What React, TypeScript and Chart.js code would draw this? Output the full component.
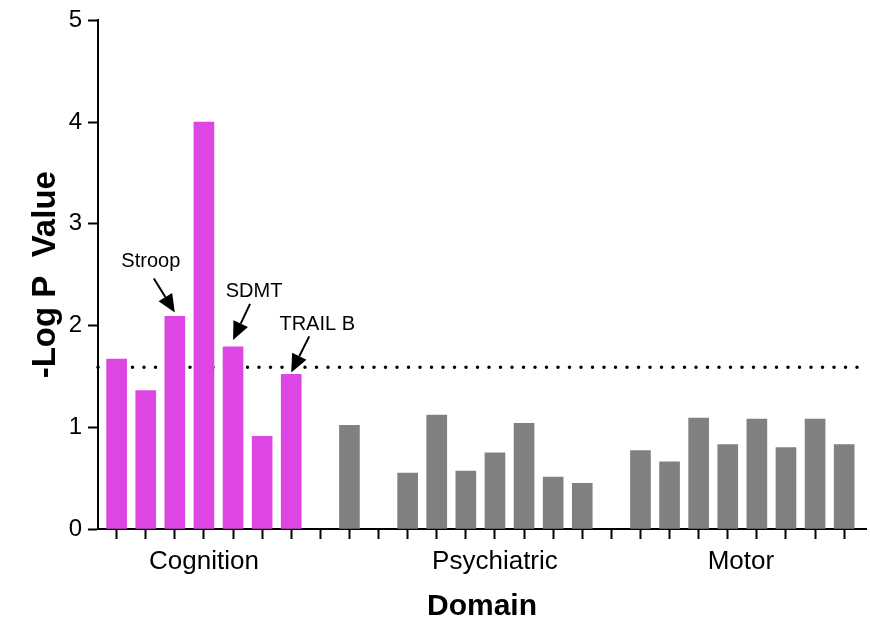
import React, { useEffect, useRef } from "react";
import { Chart, registerables } from "chart.js";

Chart.register(...registerables);

// ---- data ----
const cognitionValues: number[] = [1.67, 1.36, 2.09, 4.0, 1.79, 0.91, 1.52];
const psychiatricValues: (number | null)[] = [1.02, null, 0.55, 1.12, 0.57, 0.75, 1.04, 0.51, 0.45];
const motorValues: number[] = [0.77, 0.66, 1.09, 0.83, 1.08, 0.8, 1.08, 0.83];
const cognitionStartSlot = 0;
const psychiatricStartSlot = 8;
const motorStartSlot = 18;
const slotCount = 26;
const domainLabels = ["Cognition", "Psychiatric", "Motor"];
const domainLabelSlots = [3, 13, 21.45];
const yTickValues = [0, 1, 2, 3, 4, 5];
const thresholdValue = 1.59;
const annotationLabels = ["Stroop", "SDMT", "TRAIL B"];
const annotationSlots = [2, 4, 6];
const yAxisTitle = "-Log P  Value";
const xAxisTitle = "Domain";

const FONT = '"Liberation Sans", Arial, Helvetica, sans-serif';
const MAGENTA = "#DD46E2";
const GRAY = "#808080";

const toPoints = (values: (number | null)[], start: number) =>
  values
    .map((v, i) => (v == null ? null : { x: start + i, y: v }))
    .filter((p) => p !== null) as { x: number; y: number }[];

// styling for annotations
const annotationStyles = [
  { gap: 4, sx: -21, sy: -34, tx: -24, ty: -51 },
  { gap: 7, sx: 17, sy: -36, tx: 21, ty: -48 },
  { gap: 2, sx: 18, sy: -36, tx: 26, ty: -48 },
];

const thresholdPlugin = {
  id: "threshold",
  beforeDatasetsDraw(chart: any) {
    const { ctx, chartArea, scales } = chart;
    const y = scales.y.getPixelForValue(thresholdValue);
    ctx.save();
    ctx.strokeStyle = "#000";
    ctx.lineWidth = 3.5;
    ctx.lineCap = "round";
    ctx.setLineDash([0, 11.5]);
    ctx.beginPath();
    ctx.moveTo(chartArea.left, y);
    ctx.lineTo(chartArea.right - 7, y);
    ctx.stroke();
    ctx.restore();
  },
};

const labelsPlugin = {
  id: "labels",
  afterDraw(chart: any) {
    const { ctx, chartArea, scales } = chart;
    ctx.save();
    ctx.fillStyle = "#000";
    ctx.font = `26px ${FONT}`;
    ctx.textAlign = "center";
    ctx.textBaseline = "alphabetic";
    domainLabels.forEach((lab, i) => {
      const x = scales.x.getPixelForValue(domainLabelSlots[i]);
      ctx.fillText(lab, x, chartArea.bottom + 40);
    });
    ctx.font = `20px ${FONT}`;
    ctx.textBaseline = "middle";
    annotationLabels.forEach((lab, i) => {
      const slot = annotationSlots[i];
      const val = cognitionValues[slot - cognitionStartSlot];
      const st = annotationStyles[i];
      const bx = scales.x.getPixelForValue(slot);
      const by = scales.y.getPixelForValue(val);
      const tipX = bx;
      const tipY = by - st.gap;
      const sx = tipX + st.sx;
      const sy = tipY + st.sy;
      const ang = Math.atan2(tipY - sy, tipX - sx);
      const headLen = 18;
      const headHalf = 8;
      const baseX = tipX - headLen * Math.cos(ang);
      const baseY = tipY - headLen * Math.sin(ang);
      ctx.strokeStyle = "#000";
      ctx.lineWidth = 2;
      ctx.beginPath();
      ctx.moveTo(sx, sy);
      ctx.lineTo(baseX, baseY);
      ctx.stroke();
      ctx.beginPath();
      ctx.moveTo(tipX, tipY);
      ctx.lineTo(baseX + headHalf * Math.sin(ang), baseY - headHalf * Math.cos(ang));
      ctx.lineTo(baseX - headHalf * Math.sin(ang), baseY + headHalf * Math.cos(ang));
      ctx.closePath();
      ctx.fillStyle = "#000";
      ctx.fill();
      ctx.fillText(lab, tipX + st.tx, tipY + st.ty);
    });
    ctx.restore();
  },
};

export default function App() {
  const canvasRef = useRef<HTMLCanvasElement | null>(null);

  useEffect(() => {
    if (!canvasRef.current) return;
    const chart = new Chart(canvasRef.current, {
      type: "bar",
      data: {
        datasets: [
          {
            label: "Cognition",
            data: toPoints(cognitionValues, cognitionStartSlot),
            backgroundColor: MAGENTA,
            barThickness: 20,
            grouped: false,
          } as any,
          {
            label: "Psychiatric",
            data: toPoints(psychiatricValues, psychiatricStartSlot),
            backgroundColor: GRAY,
            barThickness: 20,
            grouped: false,
          } as any,
          {
            label: "Motor",
            data: toPoints(motorValues, motorStartSlot),
            backgroundColor: GRAY,
            barThickness: 20,
            grouped: false,
          } as any,
        ],
      },
      options: {
        animation: false,
        responsive: true,
        maintainAspectRatio: false,
        layout: { padding: { left: 0, right: 4, top: 18, bottom: 0 } },
        plugins: {
          legend: { display: false },
          tooltip: { enabled: false },
        },
        scales: {
          x: {
            type: "linear",
            offset: false,
            min: -0.64,
            max: slotCount - 1 + 0.75,
            afterBuildTicks: (scale: any) => {
              scale.ticks = Array.from({ length: slotCount }, (_, i) => ({ value: i }));
            },
            afterFit: (scale: any) => {
              scale.height = 92;
            },
            ticks: {
              autoSkip: false,
              callback: () => "",
            },
            grid: {
              offset: false,
              drawOnChartArea: false,
              drawTicks: true,
              tickLength: 10,
              tickWidth: 2,
              tickColor: "#000",
            },
            border: { display: true, color: "#000", width: 2 },
            title: {
              display: true,
              text: xAxisTitle,
              color: "#000",
              font: { family: FONT, size: 30, weight: "bold", lineHeight: 1 },
              padding: { top: 0, bottom: -1 },
            },
          },
          y: {
            type: "linear",
            min: 0,
            max: 5,
            afterBuildTicks: (scale: any) => {
              scale.ticks = yTickValues.map((v) => ({ value: v }));
            },
            afterFit: (scale: any) => {
              scale.width = 98;
            },
            ticks: {
              color: "#000",
              padding: 6,
              font: { family: FONT, size: 24 },
            },
            grid: {
              drawOnChartArea: false,
              drawTicks: true,
              tickLength: 10,
              tickWidth: 2,
              tickColor: "#000",
            },
            border: { display: true, color: "#000", width: 2 },
            title: {
              display: true,
              text: yAxisTitle,
              color: "#000",
              font: { family: FONT, size: 33, weight: "bold", lineHeight: 1 },
              padding: { top: 29, bottom: 0 },
            },
          },
        },
      } as any,
      plugins: [thresholdPlugin, labelsPlugin],
    });
    return () => chart.destroy();
  }, []);

  return (
    <div style={{ position: "fixed", left: 0, top: 0, width: 870, height: 621, background: "#fff" }}>
      <canvas ref={canvasRef} />
    </div>
  );
}
